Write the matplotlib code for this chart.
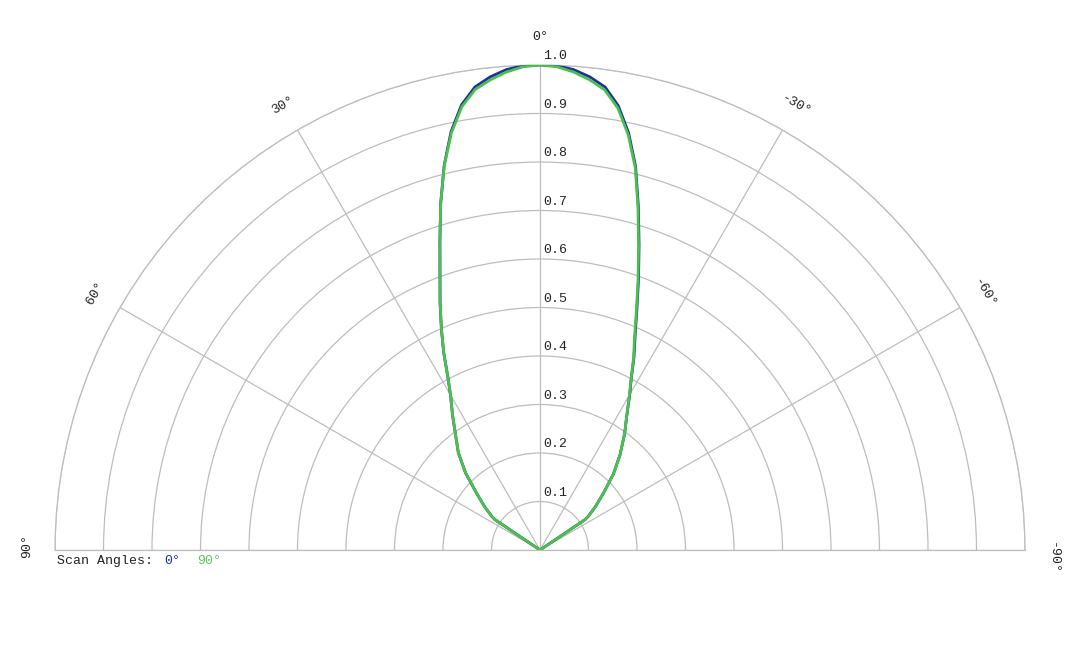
import numpy as np
import matplotlib
matplotlib.use("Agg")
import matplotlib.pyplot as plt

# ---- data (angles in degrees, normalized pattern) ----
angles_deg = [-60, -56, -55, -52, -48, -44, -40, -36, -33, -30, -28, -26, -24, -22,
              -20, -18, -16, -14, -12, -10, -8, -6, -4, -2, 0,
              2, 4, 6, 8, 10, 12, 14, 16, 18, 20, 22, 24, 26, 28, 30,
              33, 36, 40, 44, 48, 52, 55, 56, 60]
r_scan90 = [0.0, 0.112, 0.122, 0.145, 0.177, 0.218, 0.257, 0.297, 0.328, 0.369,
            0.400, 0.440, 0.479, 0.530, 0.591, 0.658, 0.733, 0.812, 0.875,
            0.925, 0.958, 0.975, 0.988, 0.997, 1.000,
            0.997, 0.988, 0.975, 0.959, 0.928, 0.879, 0.816, 0.743, 0.668,
            0.603, 0.550, 0.500, 0.453, 0.405, 0.369,
            0.331, 0.297, 0.262, 0.221, 0.177, 0.145, 0.122, 0.112, 0.0]
r_scan0 = [0.0, 0.112, 0.122, 0.145, 0.177, 0.218, 0.257, 0.297, 0.328, 0.370,
           0.401, 0.442, 0.482, 0.533, 0.594, 0.661, 0.736, 0.815, 0.879,
           0.930, 0.964, 0.981, 0.993, 0.999, 1.000,
           0.999, 0.993, 0.981, 0.964, 0.932, 0.882, 0.817, 0.743, 0.668,
           0.603, 0.550, 0.500, 0.453, 0.405, 0.369,
           0.331, 0.297, 0.262, 0.221, 0.177, 0.145, 0.122, 0.112, 0.0]

ring_values = [0.1, 0.2, 0.3, 0.4, 0.5, 0.6, 0.7, 0.8, 0.9, 1.0]
ring_labels = ["0.1", "0.2", "0.3", "0.4", "0.5", "0.6", "0.7", "0.8", "0.9", "1.0"]
angle_ticks = [90, 60, 30, 0, -30, -60, -90]
angle_labels = ["90°", "60°", "30°", "0°", "-30°", "-60°", "-90°"]

series_names = ["0°", "90°"]
blue = "#1f2f9f"
green = "#4cc04c"
grid_col = "#bdbdbd"
mono = "Liberation Mono"

W, H = 1080, 648
cx, cy, R = 540, 550, 485

fig = plt.figure(figsize=(10.8, 6.48), dpi=100)
# square axes: the half-wedge is centred inside a square box
sq_bottom_px = H - (cy - R / 2 + R)
ax = fig.add_axes([(cx - R) / W, sq_bottom_px / H, 2 * R / W, 2 * R / H], projection="polar")
ax.set_theta_zero_location("N")
ax.set_theta_direction(1)
ax.set_thetamin(-90)
ax.set_thetamax(90)
ax.set_rlim(0, 1.0)

ax.set_xticks(np.deg2rad(angle_ticks))
ax.set_xticklabels([])
ax.set_yticks(ring_values)
ax.set_yticklabels([])
ax.grid(True, color=grid_col, linewidth=0.9)
for sp in ax.spines.values():
    sp.set_color(grid_col)
    sp.set_linewidth(0.9)

th = np.deg2rad(angles_deg)
ax.plot(th, r_scan0, color=blue, linewidth=2.0, zorder=3, solid_joinstyle="round")
ax.plot(th, r_scan90, color=green, linewidth=2.0, zorder=4, solid_joinstyle="round")

# radial labels
for rv, lab in zip(ring_values, ring_labels):
    ax.annotate(lab, xy=(0, rv), xytext=(2.5, 2.0), textcoords="offset points",
                ha="left", va="bottom", fontsize=9.5, family=mono, color="#222222",
                annotation_clip=False)

# angular labels
for a, lab in zip(angle_ticks, angle_labels):
    rr = 1.058
    aa = a
    if a == -90:
        aa = -90.9
    if a == 90:
        aa = 89.55
    ax.text(np.deg2rad(aa), rr, lab, rotation=a,
            ha="center", va="center", fontsize=9.5, family=mono, color="#222222",
            clip_on=False)

# legend-like text
fig.text(57 / W, 1 - 561 / H, "Scan Angles:", fontsize=9.5, family=mono,
         color="#222222", ha="left", va="center")
fig.text(164 / W, 1 - 561 / H, series_names[0], fontsize=9.5, family=mono,
         color=blue, ha="left", va="center")
fig.text(197 / W, 1 - 561 / H, series_names[1], fontsize=9.5, family=mono,
         color="#5cc45c", ha="left", va="center")

fig.savefig("out.png", dpi=100)
